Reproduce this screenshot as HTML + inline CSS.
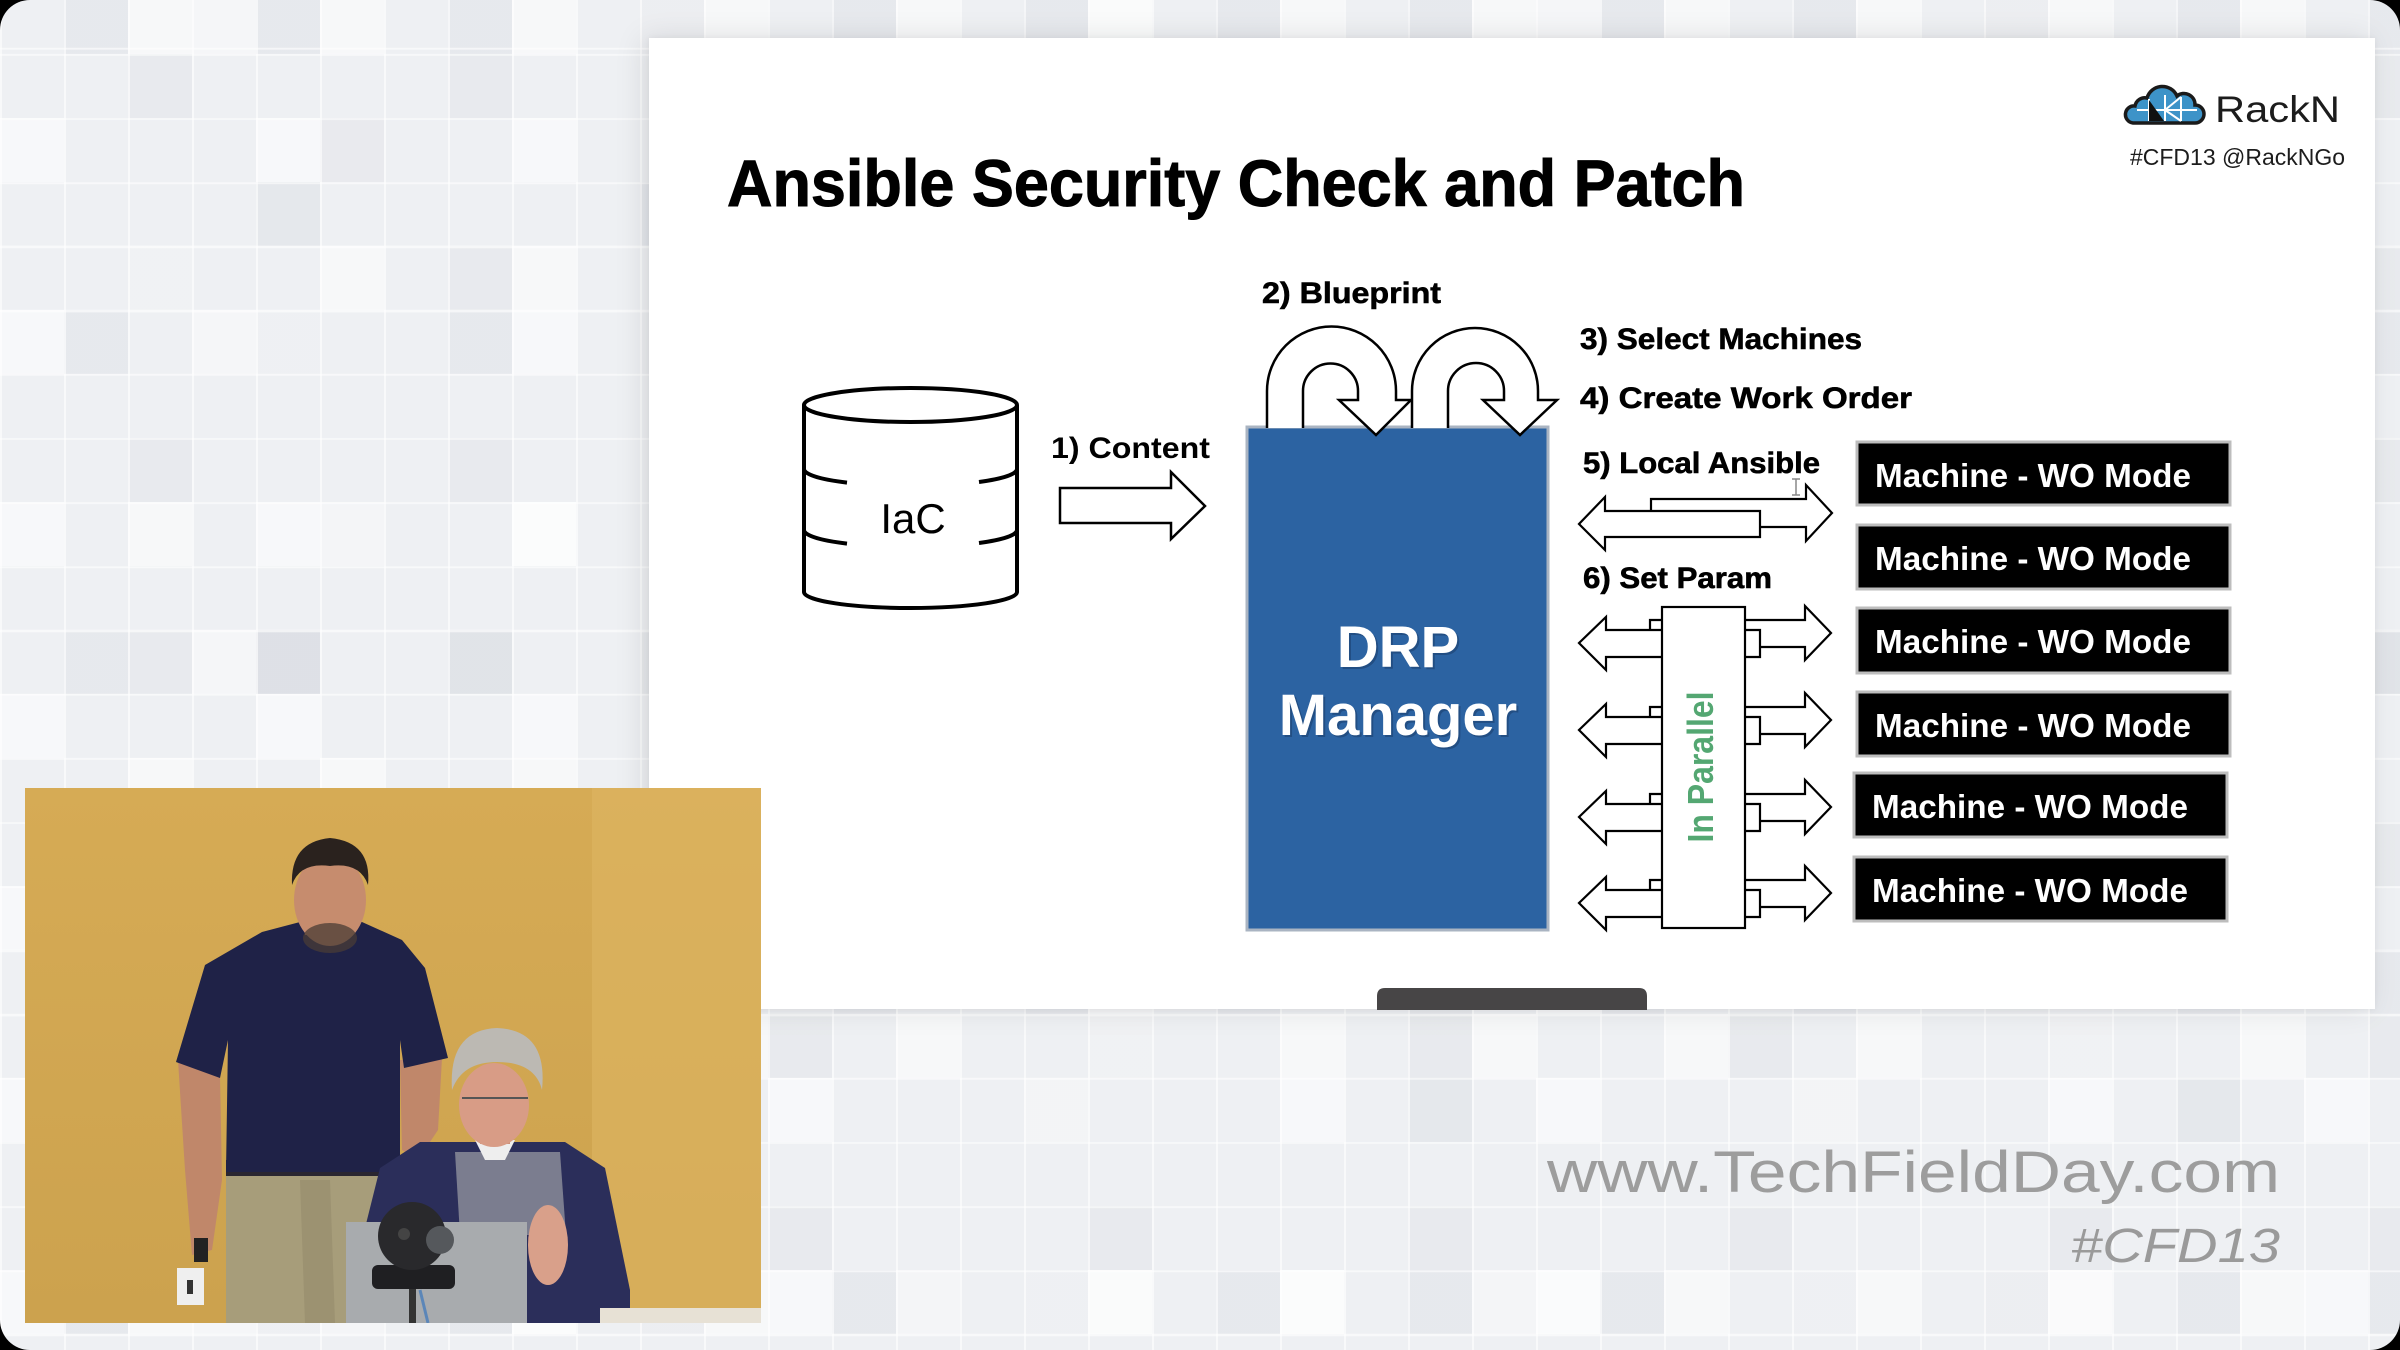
<!DOCTYPE html>
<html>
<head>
<meta charset="utf-8">
<style>
  html, body { margin:0; padding:0; background:#000; }
  #frame {
    position:relative; width:2400px; height:1350px; overflow:hidden;
    border-radius:30px;
    background-color:#eef0f3;
    background-image:
      repeating-linear-gradient(90deg, rgba(255,255,255,.6) 0 2px, transparent 2px 64px),
      repeating-linear-gradient(180deg, rgba(255,255,255,.6) 0 2px, transparent 2px 64px),
      conic-gradient(at 64px 64px, transparent 75%, rgba(60,70,100,.045) 0),
      conic-gradient(at 64px 64px, transparent 75%, rgba(60,70,100,.035) 0),
      conic-gradient(at 64px 64px, transparent 75%, rgba(255,255,255,.55) 0),
      conic-gradient(at 64px 64px, transparent 75%, rgba(255,255,255,.4) 0),
      conic-gradient(at 64px 64px, transparent 75%, rgba(60,70,100,.05) 0),
      conic-gradient(at 64px 64px, transparent 75%, rgba(255,255,255,.5) 0),
      conic-gradient(at 64px 64px, transparent 75%, rgba(60,70,100,.03) 0);
    background-size: auto, auto, 192px 320px, 320px 192px, 256px 192px, 448px 320px, 384px 448px, 192px 256px, 576px 384px;
    background-position: 0 0, 0 54px, 64px -10px, 128px 54px, 0 118px, 192px -10px, 256px 182px, 128px 246px, 320px 118px;
    font-family: "Liberation Sans", sans-serif;
  }
  #slide {
    position:absolute; left:649px; top:38px; width:1726px; height:971px;
    background:#fff;
    box-shadow: -6px 0 28px rgba(0,0,0,.10), 0 0 6px rgba(0,0,0,.05);
  }
  svg { position:absolute; left:0; top:0; }
</style>
</head>
<body>
<div id="frame">
  <div id="slide"></div>
  <svg width="2400" height="1350" viewBox="0 0 2400 1350" xmlns="http://www.w3.org/2000/svg">
    <!-- Title -->
    <text x="727" y="206" font-family="Liberation Sans, sans-serif" font-weight="700" font-size="66" textLength="1018" lengthAdjust="spacingAndGlyphs" fill="#000" stroke="#000" stroke-width="1">Ansible Security Check and Patch</text>

    <!-- RackN logo -->
    <g transform="translate(2125,88)">
      <path d="M8,35 L70,35 A9,9 0 0 0 70,17 A11,11 0 0 0 52,8 A16,16 0 0 0 22,10 A10,10 0 0 0 10,18 A8.5,8.5 0 0 0 8,35 Z" fill="#3d93c8" stroke="#1a1a1a" stroke-width="3.5"/>
      <g stroke="#fff" stroke-width="2">
        <line x1="12" y1="22" x2="72" y2="22"/>
        <line x1="24" y1="11" x2="24" y2="33"/>
        <line x1="40" y1="7" x2="40" y2="33"/>
        <line x1="56" y1="9" x2="56" y2="33"/>
        <line x1="40" y1="22" x2="56" y2="33"/>
        <line x1="40" y1="22" x2="56" y2="9"/>
      </g>
      <path d="M24,12 L39,33 L24,33 Z" fill="#111"/>
    </g>
    <text x="2215" y="122" font-family="Liberation Sans, sans-serif" font-size="37" textLength="125" lengthAdjust="spacingAndGlyphs" fill="#1c1c1c">RackN</text>
    <text x="2130" y="165" font-family="Liberation Sans, sans-serif" font-size="23" textLength="215" lengthAdjust="spacingAndGlyphs" fill="#1c1c1c">#CFD13 @RackNGo</text>

    <!-- Cylinder IaC -->
    <g fill="none" stroke="#000" stroke-width="4">
      <path d="M804,405 L804,592 A106.5,16 0 0 0 1017,592 L1017,405" fill="#fff"/>
      <ellipse cx="910.5" cy="405" rx="106.5" ry="17" fill="#fff"/>
      <path d="M804,469 A106.5,17 0 0 0 847,482.6"/>
      <path d="M979,482 A106.5,17 0 0 0 1017,469"/>
      <path d="M804,530 A106.5,17 0 0 0 847,543.6"/>
      <path d="M979,543 A106.5,17 0 0 0 1017,530"/>
    </g>
    <text x="913" y="533" text-anchor="middle" font-family="Liberation Sans, sans-serif" font-size="42" fill="#000">IaC</text>

    <!-- Content arrow -->
    <polygon points="1060,488 1171,488 1171,472 1205,506 1171,539 1171,523 1060,523" fill="#fff" stroke="#000" stroke-width="2.5" stroke-linejoin="miter"/>
    <text x="1051" y="458" font-family="Liberation Sans, sans-serif" font-weight="700" font-size="30" textLength="159" lengthAdjust="spacingAndGlyphs" fill="#000">1) Content</text>

    <!-- DRP Manager box -->
    <rect x="1247" y="427" width="301" height="503" fill="#2c63a2" stroke="#aab4c2" stroke-width="3"/>
    <g font-family="Liberation Sans, sans-serif" font-weight="700" font-size="58" text-anchor="middle">
      <text x="1400" y="669" fill="#1a3a66" opacity=".5">DRP</text>
      <text x="1400" y="737" fill="#1a3a66" opacity=".5">Manager</text>
      <text x="1398" y="667" fill="#fff">DRP</text>
      <text x="1398" y="735" fill="#fff">Manager</text>
    </g>

    <!-- Blueprint U-turn arrows -->
    <g fill="#fff" stroke="#000" stroke-width="2.5" stroke-linejoin="miter">
      <path d="M1267,428 L1267,391 A64.5,64.5 0 0 1 1396,391 L1396,400 L1411,400 L1376,435 L1339,400 L1358,400 L1358,391 A27.5,27.5 0 0 0 1303,391 L1303,428"/>
      <path d="M1412,428 L1412,391 A63,63 0 0 1 1538,391 L1538,400 L1557,400 L1520,435 L1483,400 L1504,400 L1504,391 A28,28 0 0 0 1448,391 L1448,428"/>
    </g>

    <!-- Step labels -->
    <g font-family="Liberation Sans, sans-serif" font-weight="700" font-size="30" fill="#000" stroke="#000" stroke-width="0.6">
      <text x="1262" y="303" textLength="179" lengthAdjust="spacingAndGlyphs">2) Blueprint</text>
      <text x="1580" y="349" textLength="282" lengthAdjust="spacingAndGlyphs">3) Select Machines</text>
      <text x="1580" y="408" textLength="332" lengthAdjust="spacingAndGlyphs">4) Create Work Order</text>
      <text x="1583" y="473" textLength="237" lengthAdjust="spacingAndGlyphs">5) Local Ansible</text>
      <text x="1583" y="588" textLength="189" lengthAdjust="spacingAndGlyphs">6) Set Param</text>
    </g>

    <!-- Local Ansible double arrow -->
    <g fill="#fff" stroke="#000" stroke-width="2.2" stroke-linejoin="miter">
      <polygon points="1651,499 1806,499 1806,485 1832,513 1806,541 1806,527 1651,527"/>
      <polygon points="1760,511 1605,511 1605,497 1579,524 1605,550 1605,537 1760,537"/>
    </g>
    <!-- text cursor -->
    <g stroke="#888" stroke-width="1.5">
      <line x1="1796" y1="479" x2="1796" y2="495"/>
      <line x1="1792" y1="479" x2="1800" y2="479"/>
      <line x1="1792" y1="495" x2="1800" y2="495"/>
    </g>

    <!-- Set Param arrows -->
    <g fill="#fff" stroke="#000" stroke-width="2.2" stroke-linejoin="miter">
      <polygon points="1650,620 1805,620 1805,606 1831,633 1805,660 1805,647 1650,647"/>
      <polygon points="1760,630 1606,630 1606,617 1579,643 1606,670 1606,657 1760,657"/>
      <polygon points="1650,707 1805,707 1805,693 1831,720 1805,747 1805,734 1650,734"/>
      <polygon points="1760,717 1606,717 1606,704 1579,730 1606,757 1606,744 1760,744"/>
      <polygon points="1650,794 1805,794 1805,780 1831,807 1805,834 1805,821 1650,821"/>
      <polygon points="1760,804 1606,804 1606,791 1579,817 1606,844 1606,831 1760,831"/>
      <polygon points="1650,880 1805,880 1805,866 1831,893 1805,920 1805,907 1650,907"/>
      <polygon points="1760,890 1606,890 1606,877 1579,903 1606,930 1606,917 1760,917"/>
      <rect x="1662" y="607" width="83" height="321"/>
    </g>
    <text transform="translate(1713,767) rotate(-90)" text-anchor="middle" font-family="Liberation Sans, sans-serif" font-weight="700" font-size="36" textLength="151" lengthAdjust="spacingAndGlyphs" fill="#54a772">In Parallel</text>

    <!-- Machine boxes -->
    <g fill="#000" stroke="#bdbdbd" stroke-width="3">
      <rect x="1857" y="442" width="373" height="63"/>
      <rect x="1857" y="525" width="373" height="64"/>
      <rect x="1857" y="608" width="373" height="65"/>
      <rect x="1857" y="692" width="373" height="64"/>
      <rect x="1854" y="773" width="373" height="64"/>
      <rect x="1854" y="857" width="373" height="64"/>
    </g>
    <g font-family="Liberation Sans, sans-serif" font-weight="700" font-size="33" fill="#fff">
      <text x="1875" y="487" textLength="316" lengthAdjust="spacingAndGlyphs">Machine - WO Mode</text>
      <text x="1875" y="570" textLength="316" lengthAdjust="spacingAndGlyphs">Machine - WO Mode</text>
      <text x="1875" y="653" textLength="316" lengthAdjust="spacingAndGlyphs">Machine - WO Mode</text>
      <text x="1875" y="737" textLength="316" lengthAdjust="spacingAndGlyphs">Machine - WO Mode</text>
      <text x="1872" y="818" textLength="316" lengthAdjust="spacingAndGlyphs">Machine - WO Mode</text>
      <text x="1872" y="902" textLength="316" lengthAdjust="spacingAndGlyphs">Machine - WO Mode</text>
    </g>

    <!-- dark tab at bottom of slide -->
    <path d="M1377,1010 L1377,996 Q1377,988 1385,988 L1639,988 Q1647,988 1647,996 L1647,1010 Z" fill="#474546"/>

    <!-- Watermark -->
    <text x="1547" y="1192" font-family="Liberation Sans, sans-serif" font-size="58" textLength="733" lengthAdjust="spacingAndGlyphs" fill="#9d9d9d">www.TechFieldDay.com</text>
    <text x="2071" y="1262" font-family="Liberation Sans, sans-serif" font-style="italic" font-size="48" textLength="209" lengthAdjust="spacingAndGlyphs" fill="#9a9a9a">#CFD13</text>

    <!-- Video inset -->
    <defs>
      <clipPath id="vclip"><rect x="25" y="788" width="736" height="535"/></clipPath>
      <linearGradient id="wall" x1="0" y1="0" x2="0" y2="1">
        <stop offset="0" stop-color="#d6ab55"/>
        <stop offset="1" stop-color="#cca24e"/>
      </linearGradient>
    </defs>
    <g clip-path="url(#vclip)">
      <rect x="25" y="788" width="736" height="535" fill="url(#wall)"/>
      <rect x="592" y="788" width="169" height="535" fill="#ddb663" opacity=".6"/>

      <!-- standing man -->
      <polygon points="178,1060 220,1075 222,1180 212,1250 192,1255 185,1170" fill="#c0876a"/>
      <polygon points="400,1060 442,1058 438,1130 418,1160 402,1150" fill="#c0876a"/>
      <polygon points="226,1168 400,1168 404,1323 226,1323" fill="#a79d7a"/>
      <polygon points="300,1180 330,1180 335,1323 305,1323" fill="#958b6a" opacity=".6"/>
      <rect x="226" y="1160" width="174" height="16" fill="#2a2630"/>
      <path d="M262,932 L300,922 L362,922 L402,940 L425,968 L448,1058 L404,1068 L400,1040 L400,1172 L226,1172 L228,1040 L220,1078 L176,1062 L205,965 Z" fill="#1f2247"/>
      <rect x="305" y="905" width="48" height="30" fill="#b77d62"/>
      <ellipse cx="330" cy="900" rx="36" ry="46" fill="#c68c6e"/>
      <ellipse cx="330" cy="938" rx="27" ry="15" fill="#4a3c36" opacity=".75"/>
      <path d="M292,885 Q290,842 330,838 Q372,842 368,885 Q360,862 330,866 Q300,862 292,885 Z" fill="#2a221e"/>
      <rect x="194" y="1238" width="14" height="24" fill="#222"/>
      <rect x="177" y="1268" width="27" height="37" fill="#efefef"/>
      <rect x="187" y="1280" width="6" height="14" fill="#333"/>

      <!-- seated man -->
      <path d="M420,1142 L565,1142 L605,1168 L630,1290 L630,1323 L355,1323 L362,1240 L380,1168 Z" fill="#2b2e5a"/>
      <polygon points="455,1152 560,1152 566,1235 460,1235" fill="#7b7d8f"/>
      <polygon points="475,1140 515,1140 505,1160 485,1160" fill="#eeeeee"/>
      <rect x="480" y="1128" width="30" height="16" fill="#c98f78"/>
      <ellipse cx="494" cy="1105" rx="35" ry="42" fill="#d89c86"/>
      <path d="M452,1090 Q448,1030 497,1028 Q548,1030 542,1090 Q535,1062 497,1062 Q462,1062 452,1090 Z" fill="#bcb9b3"/>
      <line x1="462" y1="1098" x2="528" y2="1098" stroke="#555" stroke-width="2"/>
      <ellipse cx="548" cy="1245" rx="20" ry="40" fill="#d9a08a"/>
      <rect x="346" y="1222" width="181" height="101" fill="#a8abae"/>
      <rect x="409" y="1289" width="7" height="34" fill="#333"/>
      <line x1="420" y1="1290" x2="428" y2="1323" stroke="#5b86b8" stroke-width="3"/>
      <rect x="372" y="1265" width="83" height="24" rx="6" fill="#1f1f22"/>
      <circle cx="412" cy="1236" r="34" fill="#29292c"/>
      <circle cx="440" cy="1240" r="14" fill="#55585c"/>
      <circle cx="404" cy="1234" r="6" fill="#444"/>
      <rect x="600" y="1308" width="161" height="15" fill="#e7e1d5"/>
    </g>
  </svg>
</div>
</body>
</html>
